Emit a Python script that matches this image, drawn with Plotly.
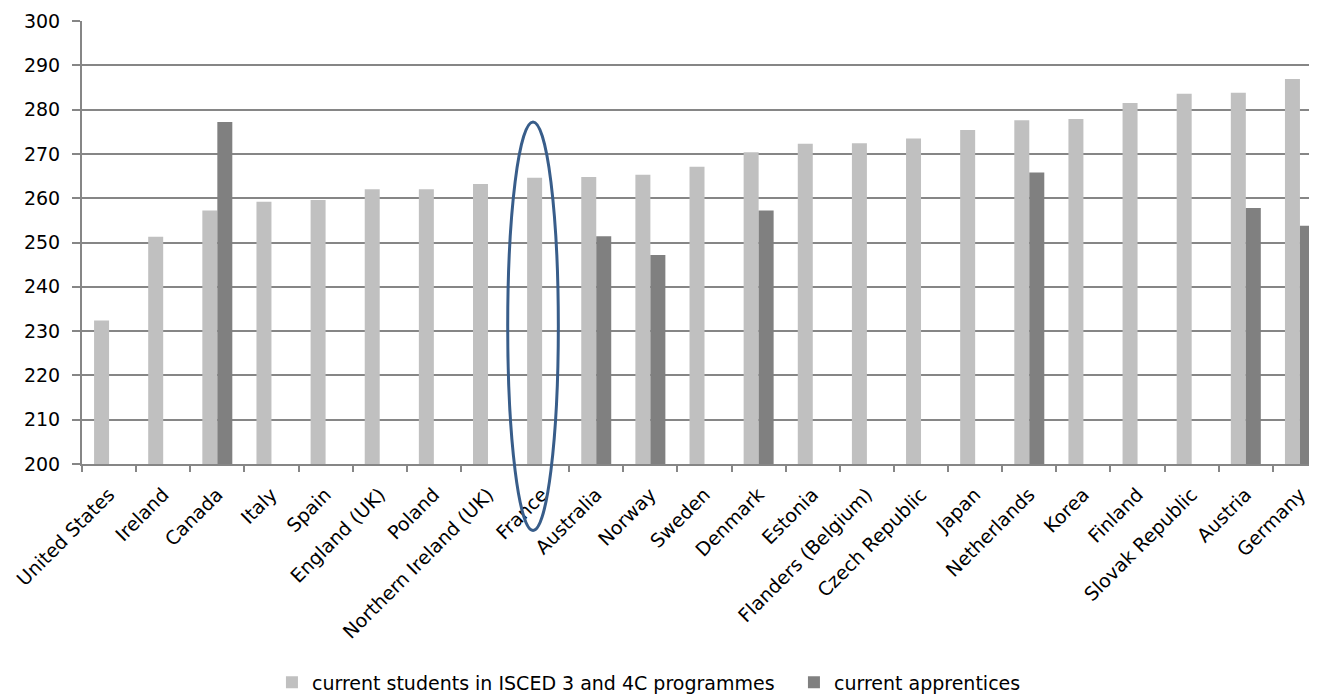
import plotly.graph_objects as go

countries = ["United States", "Ireland", "Canada", "Italy", "Spain", "England (UK)", "Poland",
             "Northern Ireland (UK)", "France", "Australia", "Norway", "Sweden", "Denmark", "Estonia",
             "Flanders (Belgium)", "Czech Republic", "Japan", "Netherlands", "Korea", "Finland",
             "Slovak Republic", "Austria", "Germany"]
students = [232.4, 251.3, 257.2, 259.2, 259.6, 262.0, 262.0, 263.2, 264.6, 264.8, 265.3, 267.1,
            270.4, 272.3, 272.4, 273.5, 275.4, 277.6, 277.9, 281.5, 283.6, 283.8, 286.9]
apprentices = [None, None, 277.2, None, None, None, None, None, None, 251.4, 247.2, None,
               257.2, None, None, None, None, 265.8, None, None, None, 257.8, 253.8]
y_ticks = [200, 210, 220, 230, 240, 250, 260, 270, 280, 290, 300]

font = "'DejaVu Sans', Verdana, sans-serif"

fig = go.Figure()
fig.add_trace(go.Bar(x=countries, y=students, name="current students in ISCED 3 and 4C programmes",
                     marker_color="#C0C0C0", marker_line_width=0))
fig.add_trace(go.Bar(x=countries, y=apprentices, name="current apprentices",
                     marker_color="#808080", marker_line_width=0))

fig.update_layout(
    width=1317, height=696,
    margin=dict(l=74, r=8, t=12.8, b=239.7, autoexpand=False),
    paper_bgcolor="white", plot_bgcolor="white",
    barmode="group", bargap=0.446, bargroupgap=0,
    font=dict(family=font, size=19, color="black"),
    showlegend=True,
    legend=dict(orientation="h", x=0.1538, xanchor="left", y=-0.493, yanchor="middle",
                font=dict(size=19), traceorder="normal", itemwidth=30,
                entrywidth=477, entrywidthmode="pixels"),
    xaxis=dict(range=[-0.5, 22.315], automargin=False, showgrid=False, showline=True,
               linecolor="#868686", linewidth=2,
               ticks="outside", tickson="boundaries", ticklen=6, tickcolor="#868686", tickwidth=2,
               tickangle=-45, tickfont=dict(size=19), ticklabelstandoff=10),
    yaxis=dict(range=[200, 300], tickvals=y_ticks, automargin=False, showgrid=True,
               gridcolor="#868686", gridwidth=2,
               showline=True, linecolor="#868686", linewidth=2, ticks="outside", ticklen=8,
               tickcolor="#868686", tickwidth=2, tickfont=dict(size=19), zeroline=False,
               ticklabelstandoff=8),
    shapes=[dict(type="circle", xref="paper", yref="paper", x0=0.3447, x1=0.3857, y0=-0.150, y1=0.772,
                 line=dict(color="#385D8A", width=3), fillcolor="rgba(0,0,0,0)", layer="above")],
)

fig.write_html("out.html")
